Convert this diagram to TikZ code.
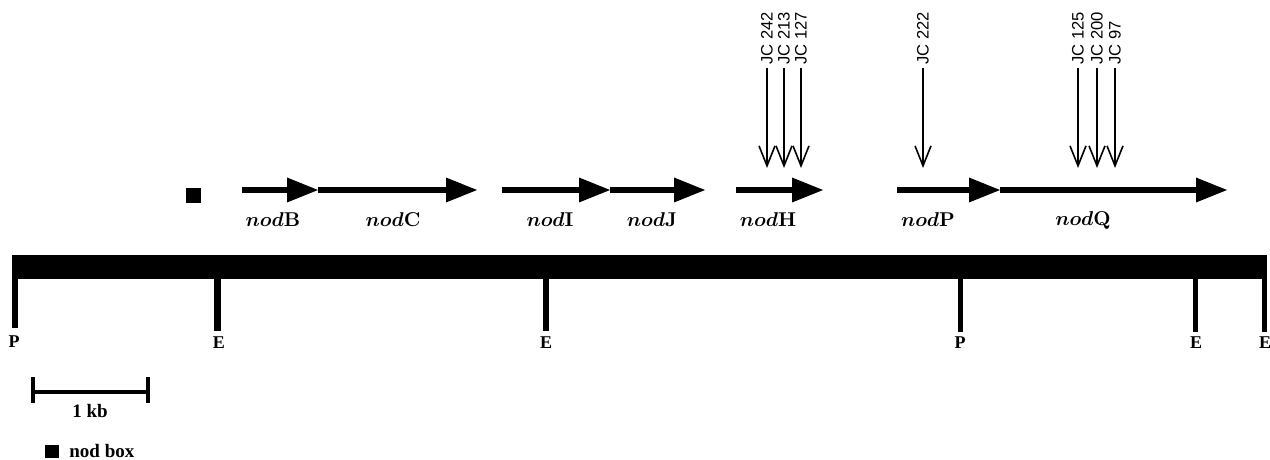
\documentclass[tikz,border=0pt]{standalone}
\usepackage{amsmath}
\usepackage{fontspec}
\newfontfamily\serifb{Liberation Serif}
\newfontfamily\sansf{Liberation Sans}
\usetikzlibrary{arrows.meta}
\begin{document}
\begin{tikzpicture}[x=0.5pt,y=-0.5pt,
  gene/.style={line width=3pt,-{Triangle[length=15.5pt,width=12.5pt,line width=0pt]}},
  genelabel/.style={inner sep=0pt,font=\fontsize{10}{12}\selectfont},
  site/.style={inner sep=0pt,font=\serifb\bfseries\fontsize{9}{11}\selectfont},
  jc/.style={rotate=90,anchor=west,inner xsep=1.5pt,inner ysep=0pt,font=\sansf\fontsize{8.3}{10}\selectfont},
  jcarr/.style={line width=0.65pt,-{Straight Barb[length=10pt,width=8pt,line width=0.8pt]}},
  legend/.style={inner sep=0pt,font=\serifb\bfseries\fontsize{9.5}{11}\selectfont}]
\useasboundingbox (0,0) rectangle (1270,460);

% main bar and restriction sites
\fill (12,255) rectangle (1267,279);
\fill (12,279) rectangle (18,328);
\fill (214,279) rectangle (221,331);
\fill (543,279) rectangle (549,331);
\fill (958,279) rectangle (963,332);
\fill (1193,279) rectangle (1198,332);
\fill (1262,279) rectangle (1267,332);
\node[site] (s1) at (14,342) {P};
\node[site] (s2) at (219,343) {E};
\node[site] (s3) at (546,343) {E};
\node[site] (s4) at (960,343) {P};
\node[site] (s5) at (1196,343) {E};
\node[site] (s6) at (1265,343) {E};

% nod box
\fill (186,188) rectangle (201,203);

% genes
\coordinate (gB0) at (242,190);
\coordinate (gB1) at (318,190);
\coordinate (gC1) at (477,190);
\coordinate (gI0) at (502,190);
\coordinate (gI1) at (610,190);
\coordinate (gJ1) at (705,190);
\coordinate (gH0) at (736,190);
\coordinate (gH1) at (823,190);
\coordinate (gP0) at (897,190);
\coordinate (gP1) at (1000,190);
\coordinate (gQ1) at (1227,190);
\draw[gene] (gB0) -- (gB1);
\draw[gene] (gB1) -- (gC1);
\draw[gene] (gI0) -- (gI1);
\draw[gene] (gI1) -- (gJ1);
\draw[gene] (gH0) -- (gH1);
\draw[gene] (gP0) -- (gP1);
\draw[gene] (gP1) -- (gQ1);
\node[genelabel] (lB) at (273,220) {$\boldsymbol{nod}$\textbf{B}};
\node[genelabel] (lC) at (393,220) {$\boldsymbol{nod}$\textbf{C}};
\node[genelabel] (lI) at (550,220) {$\boldsymbol{nod}$\textbf{I}};
\node[genelabel] (lJ) at (652,220) {$\boldsymbol{nod}$\textbf{J}};
\node[genelabel] (lH) at (768,220) {$\boldsymbol{nod}$\textbf{H}};
\node[genelabel] (lP) at (928,220) {$\boldsymbol{nod}$\textbf{P}};
\node[genelabel] (lQ) at (1083,220) {$\boldsymbol{nod}$\textbf{Q}};

% insertions
\node[jc] (j242) at (767,68) {JC 242};
\node[jc] (j213) at (784,68) {JC 213};
\node[jc] (j127) at (801,68) {JC 127};
\node[jc] (j222) at (923,68) {JC 222};
\node[jc] (j125) at (1078,68) {JC 125};
\node[jc] (j200) at (1097,68) {JC 200};
\node[jc] (j97) at (1115,68) {JC 97};
\coordinate (t242) at (767,168);
\coordinate (t213) at (784,168);
\coordinate (t127) at (801,168);
\coordinate (t222) at (923,168);
\coordinate (t125) at (1078,168);
\coordinate (t200) at (1097,168);
\coordinate (t97) at (1115,168);
\draw[jcarr] (j242.west) -- (t242);
\draw[jcarr] (j213.west) -- (t213);
\draw[jcarr] (j127.west) -- (t127);
\draw[jcarr] (j222.west) -- (t222);
\draw[jcarr] (j125.west) -- (t125);
\draw[jcarr] (j200.west) -- (t200);
\draw[jcarr] (j97.west) -- (t97);

% scale bar
\fill (31,377) rectangle (35,403);
\fill (146,377) rectangle (150,403);
\fill (35,390) rectangle (146,394);
\node[legend] (kb) at (90,411) {1 kb};

% legend
\fill (45,445) rectangle (59,458);
\node[legend,anchor=west] (lg) at (69,451) {nod box};
\end{tikzpicture}
\end{document}
